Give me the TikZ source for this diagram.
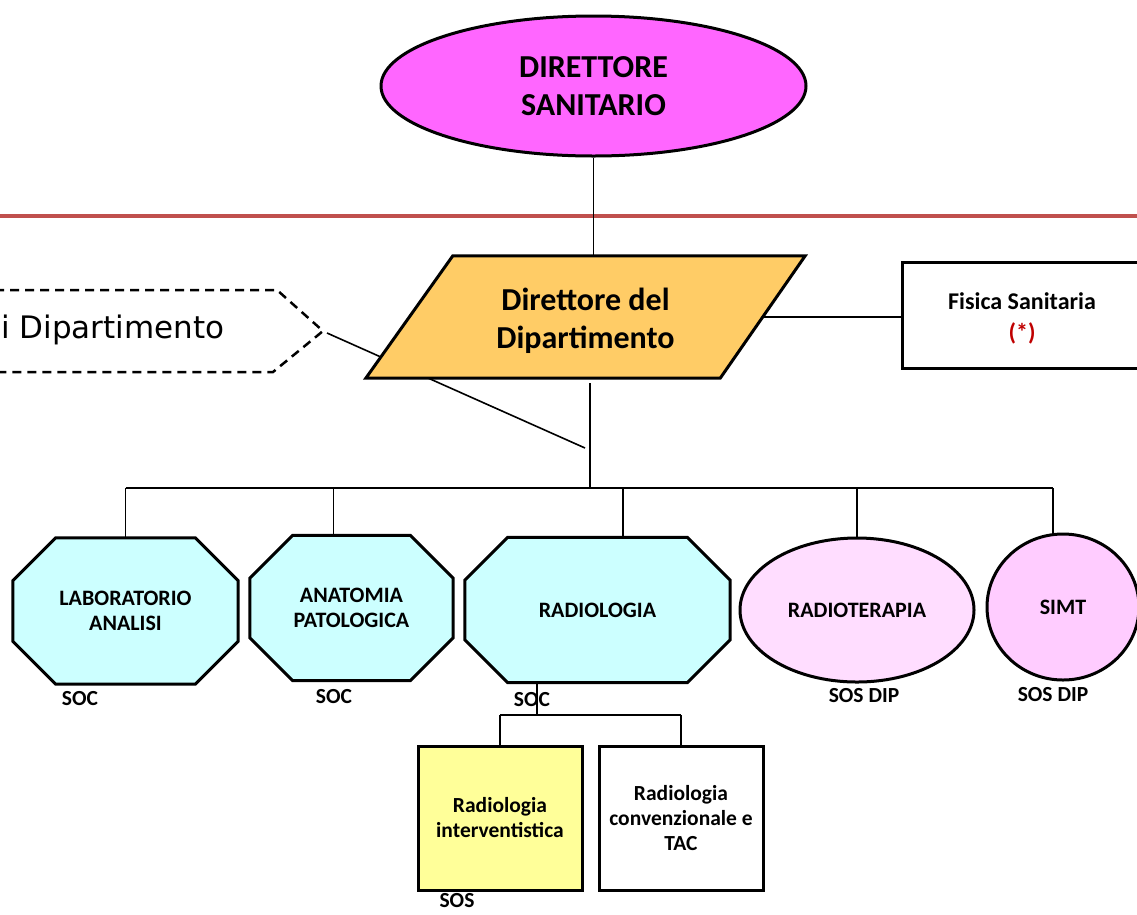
\documentclass[tikz,border=0pt]{standalone}
\usepackage{fontspec}
\setmainfont{Carlito}
\newfontfamily\dashfont{DejaVu Sans}
\usetikzlibrary{shapes.geometric,calc}

\definecolor{headfill}{HTML}{FF66FF}
\definecolor{deptfill}{HTML}{FFCC66}
\definecolor{socfill}{HTML}{CCFFFF}
\definecolor{rtfill}{HTML}{FFDDFF}
\definecolor{simtfill}{HTML}{FFCCFF}
\definecolor{sosfill}{HTML}{FFFF99}
\definecolor{rulecol}{RGB}{192,80,77}
\definecolor{notecol}{HTML}{C00000}

\pgfdeclarelayer{paper}
\pgfdeclarelayer{back}
\pgfsetlayers{paper,back,main}

% chamfered outline drawn behind a named (borderless) node
\newcommand\octoutline[2]{%
  \begin{pgfonlayer}{back}
    \draw[shapeline, fill=socfill]
      ($(#1.north west)+(#2,0)$) -- ($(#1.north east)+(-#2,0)$) --
      ($(#1.north east)+(0,#2)$) -- ($(#1.south east)+(0,-#2)$) --
      ($(#1.south east)+(-#2,0)$) -- ($(#1.south west)+(#2,0)$) --
      ($(#1.south west)+(0,-#2)$) -- ($(#1.north west)+(0,#2)$) -- cycle;
  \end{pgfonlayer}}

\begin{document}
\begin{tikzpicture}[x=1pt,y=-1pt,line join=miter,
  every node/.style={align=center,inner sep=0pt},
  shapeline/.style={draw=black,line width=3pt},
  link/.style={draw=black,line width=1.6pt},
  bigtext/.style={font=\fontsize{32}{38}\selectfont\bfseries},
  midtext/.style={font=\fontsize{32}{38}\selectfont\bfseries},
  smalltext/.style={font=\fontsize{22}{25}\selectfont\bfseries},
  boxtext/.style={font=\fontsize{24}{31}\selectfont\bfseries},
  headshape/.style={ellipse,shapeline,fill=headfill,bigtext},
  octtext/.style={smalltext},
  ovalshape/.style={ellipse,shapeline,smalltext},
  unitbox/.style={rectangle,shapeline,font=\fontsize{21.5}{25}\selectfont\bfseries},
  tag/.style={font=\fontsize{21.5}{25}\selectfont\bfseries}]

\useasboundingbox (0,0) rectangle (1137,914);
\begin{pgfonlayer}{paper}
  \fill[white] (0,0) rectangle (1137,914);
\end{pgfonlayer}

% separation rule
\draw[rulecol,line width=4pt] (0,216) -- (1137,216);

% top level
\node[headshape,minimum width=425,minimum height=140] (ds) at (593.5,86) {DIRETTORE\\SANITARIO};

% dashed council shape, cut at the left edge; its link runs behind the department head
\draw[line width=2.5pt,dash pattern=on 9pt off 6pt] (-5,290) -- (277,290) -- (323,331) -- (273,372) -- (-5,372);
\coordinate (cdtip) at (327,333);
\node[anchor=west,font=\dashfont\fontsize{31}{34}\selectfont] (cdtext) at (1,330) {i Dipartimento};
\coordinate (hub) at (585,448);
\begin{pgfonlayer}{paper}
  \draw[link] (cdtip) -- (hub);
\end{pgfonlayer}

% department head: slanted box around a borderless node
\node[minimum width=439,minimum height=122] (dd) at (585.5,317) {};
\node[midtext] (ddtext) at (585.5,321) {Direttore del\\Dipartimento};
\begin{pgfonlayer}{back}
  \draw[shapeline,fill=deptfill] (dd.south west) -- ($(dd.north west)+(87,0)$) --
    (dd.north east) -- ($(dd.south east)+(-85,0)$) -- cycle;
\end{pgfonlayer}
\coordinate (ddright) at ($(dd.east)+(-42,0)$);

\node[rectangle,shapeline,minimum width=240,minimum height=106] (fs) at (1022,315) {};
\node[boxtext] (fstext) at (1022,318.5) {Fisica Sanitaria\\\textcolor{notecol}{(*)}};

% departmental units
\node[octtext,minimum width=225,minimum height=146] (lab) at (125.5,611) {LABORATORIO\\ANALISI};
\node[octtext,minimum width=203,minimum height=145] (ana) at (351.5,608) {ANATOMIA\\PATOLOGICA};
\node[octtext,minimum width=265,minimum height=145] (rad) at (597.5,610) {RADIOLOGIA};
\octoutline{lab}{43}
\octoutline{ana}{43}
\octoutline{rad}{43}
\node[ovalshape,fill=rtfill,minimum width=234,minimum height=144] (rt) at (857,610) {RADIOTERAPIA};
\node[ovalshape,fill=simtfill,minimum width=152,minimum height=146] (simt) at (1063,607) {SIMT};

\node[tag] (t1) at (80,699) {SOC};
\node[tag] (t2) at (334,697) {SOC};
\node[tag] (t3) at (532,700) {SOC};
\node[tag] (t4) at (864,696) {SOS DIP};
\node[tag] (t5) at (1053,695) {SOS DIP};

% radiology sections
\node[unitbox,fill=sosfill,minimum width=164,minimum height=144] (ri) at (500,818) {Radiologia\\interventistica};
\node[unitbox,fill=white,minimum width=164,minimum height=144] (rc) at (681,818) {Radiologia\\convenzionale e\\TAC};
\node[tag] (t6) at (457,901) {SOS};

% connectors
\draw[link] (ds.south) -- (ds.south |- dd.north);
\draw[link] (ddright) -- (ddright -| fs.west);
\coordinate (bus) at (590,488);
\draw[link] ($(dd.south -| bus)+(0,5)$) -- (bus);
\draw[link] (bus -| lab.north) -- ($(bus -| simt.north)+(-10,0)$);
\foreach \n/\dx in {lab/0,ana/-18,rad/25.5,rt/0,simt/-10}
  \draw[link] ($(bus -| \n.north)+(\dx,0)$) -- ($(\n.north)+(\dx,0)$);

\coordinate (subbus) at (537,715);
\draw[link] (rad.south -| subbus) -- (subbus);
\draw[link] (subbus -| ri.north) -- (subbus -| rc.north);
\draw[link] (subbus -| ri.north) -- (ri.north);
\draw[link] (subbus -| rc.north) -- (rc.north);
\end{tikzpicture}
\end{document}
